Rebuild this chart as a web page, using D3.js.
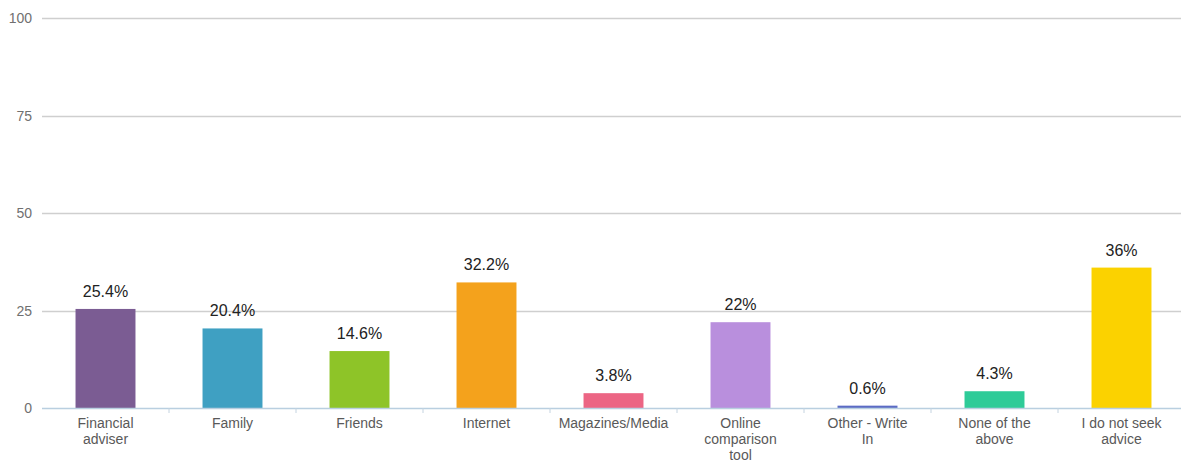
<!DOCTYPE html>
<html>
<head>
<meta charset="utf-8">
<script src="https://cdn.jsdelivr.net/npm/d3@7"></script>
<style>
  html, body { margin: 0; padding: 0; background: #fff; }
  svg { display: block; font-family: "Liberation Sans", Arial, sans-serif; }
</style>
</head>
<body>
<svg id="chart" width="1181" height="466"></svg>
<script>
// Where people seek advice (% of respondents)
const categories = [
  "Financial adviser", "Family", "Friends", "Internet", "Magazines/Media",
  "Online comparison tool", "Other - Write In", "None of the above", "I do not seek advice"
];
const categoryLines = [
  ["Financial", "adviser"], ["Family"], ["Friends"], ["Internet"], ["Magazines/Media"],
  ["Online", "comparison", "tool"], ["Other - Write", "In"], ["None of the", "above"], ["I do not seek", "advice"]
];
const values = [25.4, 20.4, 14.6, 32.2, 3.8, 22, 0.6, 4.3, 36];
const valueLabels = ["25.4%", "20.4%", "14.6%", "32.2%", "3.8%", "22%", "0.6%", "4.3%", "36%"];
const colors = ["#7b5c93", "#3fa0c2", "#8ec428", "#f4a21c", "#ec6584", "#b98fdd", "#5b6bc4", "#2ecb98", "#fbd200"];
const yTicks = [0, 25, 50, 75, 100];

const svg = d3.select("#chart");
const plotLeft = 42, plotRight = 1185, plotTop = 18, plotBottom = 408;
const gridRight = 1181;

const x = d3.scaleBand().domain(categories).range([plotLeft, plotRight]).paddingInner(0.528).paddingOuter(0.264);
const y = d3.scaleLinear().domain([0, 100]).range([plotBottom, plotTop]);

// horizontal gridlines
svg.append("g").selectAll("line").data(yTicks.filter(d => d > 0)).join("line")
  .attr("x1", plotLeft).attr("x2", gridRight)
  .attr("y1", d => Math.round(y(d)) + 0.5).attr("y2", d => Math.round(y(d)) + 0.5)
  .attr("stroke", "#cfcfcf").attr("stroke-width", 1.5);

// y tick labels
svg.append("g").selectAll("text").data(yTicks).join("text")
  .attr("x", 32).attr("y", d => y(d) + 5)
  .attr("text-anchor", "end")
  .attr("font-size", 14).attr("fill", "#707070")
  .text(d => d);

// bars
svg.append("g").selectAll("rect").data(values).join("rect")
  .attr("x", (d, i) => x(categories[i]))
  .attr("width", x.bandwidth())
  .attr("y", d => y(d))
  .attr("height", d => y(0) - y(d))
  .attr("fill", (d, i) => colors[i]);

// baseline axis with ticks between categories
svg.append("line")
  .attr("x1", plotLeft).attr("x2", gridRight)
  .attr("y1", plotBottom + 0.5).attr("y2", plotBottom + 0.5)
  .attr("stroke", "#b9cfe0").attr("stroke-width", 1.5);

const step = x.step();
const boundaries = d3.range(1, categories.length).map(i => x(categories[i]) - (step - x.bandwidth()) / 2);
svg.append("g").selectAll("line").data(boundaries).join("line")
  .attr("x1", d => d).attr("x2", d => d)
  .attr("y1", plotBottom).attr("y2", plotBottom + 5)
  .attr("stroke", "#c4d3e0").attr("stroke-width", 1);

// value labels
svg.append("g").selectAll("text").data(values).join("text")
  .attr("x", (d, i) => x(categories[i]) + x.bandwidth() / 2)
  .attr("y", d => y(d) - 12)
  .attr("text-anchor", "middle")
  .attr("font-size", 16).attr("fill", "#222")
  .text((d, i) => valueLabels[i]);

// category labels
const cat = svg.append("g").selectAll("text").data(categories).join("text")
  .attr("x", d => x(d) + x.bandwidth() / 2)
  .attr("y", 428)
  .attr("text-anchor", "middle")
  .attr("font-size", 14).attr("fill", "#595959");
cat.each(function(d, i) {
  const t = d3.select(this);
  const cx = x(d) + x.bandwidth() / 2;
  categoryLines[i].forEach((line, j) => {
    t.append("tspan").attr("x", cx).attr("dy", j === 0 ? 0 : 16).text(line);
  });
});
</script>
</body>
</html>
